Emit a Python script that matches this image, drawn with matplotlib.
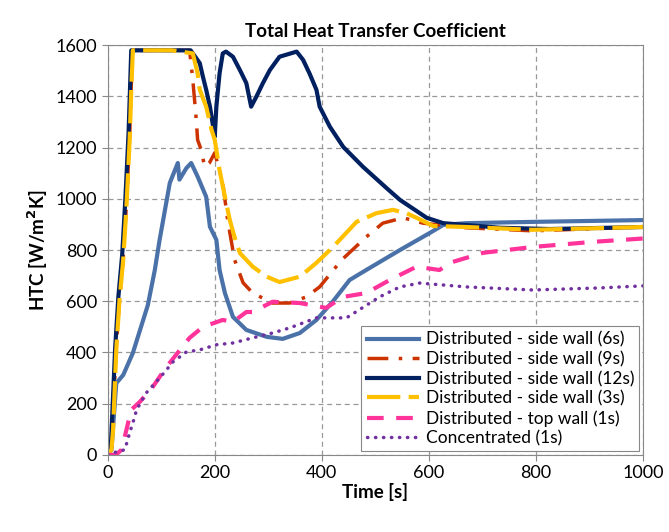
import matplotlib
matplotlib.use("Agg")
import matplotlib.pyplot as plt

plt.rcParams["font.family"] = ["Lato", "DejaVu Sans"]

# Distributed - side wall (6s)
t_6s = [0, 7, 16, 29, 47, 75, 88, 97, 116, 131, 134, 147, 156, 168, 184, 191, 203, 209,
        219, 234, 259, 297, 327, 359, 390, 421, 452, 483, 546, 602, 627, 670, 794, 1000]
h_6s = [0, 20, 280, 312, 398, 585, 722, 840, 1062, 1140, 1075, 1120, 1140, 1087, 1008, 891,
        840, 722, 632, 539, 488, 461, 453, 476, 527, 600, 683, 722, 800, 867, 898, 905, 910, 917]

# Distributed - side wall (9s)
t_9s = [0, 7, 16, 22, 29, 35, 41, 46, 80, 120, 153, 159, 165, 168, 175, 181, 190, 200, 215,
        224, 237, 253, 271, 308, 340, 371, 396, 437, 483, 514, 552, 589, 670, 794, 1000]
h_9s = [0, 30, 420, 610, 770, 980, 1240, 1580, 1580, 1580, 1580, 1465, 1320, 1230, 1190,
        1125, 1140, 1180, 1062, 918, 762, 672, 632, 593, 593, 617, 656, 761, 851, 905, 926,
        905, 887, 875, 890]

# Distributed - side wall (12s)
t_12s = [0, 6, 14, 20, 27, 33, 39, 44, 80, 120, 155, 172, 178, 184, 191, 196, 200, 203, 209,
         215, 221, 234, 247, 259, 268, 278, 290, 303, 321, 353, 365, 377, 390, 396, 415, 440,
         477, 521, 546, 596, 627, 733, 826, 1000]
h_12s = [0, 40, 420, 620, 780, 1000, 1260, 1580, 1580, 1580, 1580, 1530, 1476, 1426, 1360,
         1295, 1243, 1360, 1490, 1568, 1575, 1555, 1503, 1452, 1360, 1400, 1452, 1503, 1555,
         1575, 1543, 1490, 1426, 1360, 1282, 1203, 1125, 1042, 996, 926, 905, 887, 882, 890]

# Distributed - side wall (3s)
t_3s = [0, 7, 10, 16, 22, 29, 35, 41, 44, 47, 80, 120, 159, 168, 172, 184, 194, 200, 209, 219,
        228, 237, 247, 271, 297, 321, 359, 390, 421, 465, 502, 533, 558, 577, 608, 670, 794, 1000]
h_3s = [0, 20, 98, 410, 605, 762, 968, 1230, 1426, 1580, 1580, 1580, 1568, 1490, 1426, 1360,
        1270, 1230, 1112, 1008, 918, 851, 788, 735, 696, 675, 696, 750, 812, 910, 944, 957,
        944, 926, 894, 890, 879, 890]

# Distributed - top wall (1s)
t_top = [0, 15, 26, 32, 44, 60, 84, 110, 135, 153, 178, 215, 234, 259, 271, 308, 359, 408,
         440, 483, 527, 577, 620, 639, 701, 794, 907, 1000]
h_top = [0, 0, 20, 72, 176, 207, 265, 344, 410, 457, 500, 527, 519, 558, 558, 598, 593, 574,
         617, 632, 683, 735, 722, 750, 789, 812, 832, 845]

# Concentrated (1s)
t_conc = [0, 10, 32, 41, 47, 54, 72, 97, 122, 147, 172, 203, 234, 271, 308, 340, 371, 390,
          446, 508, 546, 583, 670, 794, 920, 1000]
h_conc = [0, 8, 20, 86, 125, 176, 242, 300, 363, 402, 410, 430, 437, 457, 476, 496, 520, 535,
          535, 617, 656, 671, 656, 644, 652, 660]

fig = plt.figure(figsize=(6.69, 5.32), dpi=100)
ax = fig.add_axes([0.161, 0.145, 0.8, 0.77])

ax.plot(t_6s, h_6s, color="#4A72A8", lw=3, label="Distributed - side wall (6s)")
ax.plot(t_9s, h_9s, color="#CC3300", lw=2.5, dashes=(6, 3, 1, 3),
        label="Distributed - side wall (9s)")
ax.plot(t_12s, h_12s, color="#002060", lw=3, label="Distributed - side wall (12s)")
ax.plot(t_3s, h_3s, color="#FFC000", lw=3, dashes=(8, 2),
        label="Distributed - side wall (3s)")
ax.plot(t_top, h_top, color="#FF3399", lw=3, dashes=(4, 3),
        label="Distributed - top wall (1s)")
ax.plot(t_conc, h_conc, color="#7030A0", lw=2.5, dashes=(0.1, 2.2), dash_capstyle="round",
        label="Concentrated (1s)")

ax.set_xlim(0, 1000)
ax.set_ylim(0, 1600)
ax.set_xticks(range(0, 1001, 200))
ax.set_yticks(range(0, 1601, 200))
ax.tick_params(labelsize=13, direction="out", length=4, color="#888888")
ax.grid(True, linestyle=(0, (4, 3)), color="#999999", lw=0.9)
for s in ax.spines.values():
    s.set_color("#888888")

ax.set_title("Total Heat Transfer Coefficient", fontsize=13.5, fontweight="bold", pad=6)
ax.set_xlabel("Time [s]", fontsize=13.5, fontweight="bold", labelpad=1)
ax.set_ylabel("HTC [W/m$^\\mathbf{2}$K]", fontsize=13.5, fontweight="bold")

leg = ax.legend(loc="lower right", fontsize=12.5, fancybox=False, edgecolor="#888888",
                framealpha=1, handlelength=3, borderaxespad=0.2, labelspacing=0.2,
                handletextpad=0.4, borderpad=0.3)
leg.get_frame().set_linewidth(0.8)

fig.savefig("out.png", dpi=100)
